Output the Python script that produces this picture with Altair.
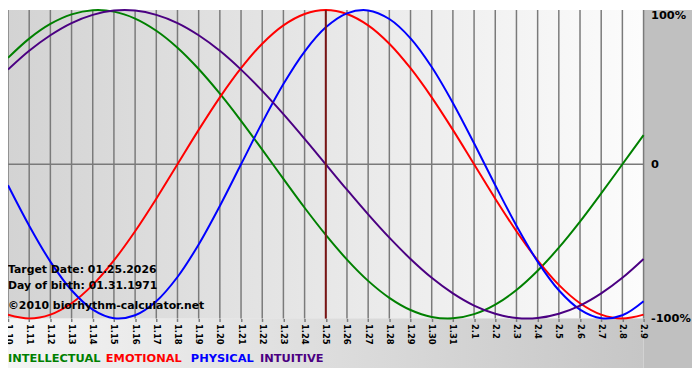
import altair as alt
import pandas as pd

days = ["1.10", "1.11", "1.12", "1.13", "1.14", "1.15", "1.16", "1.17", "1.18", "1.19",
        "1.20", "1.21", "1.22", "1.23", "1.24", "1.25", "1.26", "1.27", "1.28", "1.29",
        "1.30", "1.31", "2.1", "2.2", "2.3", "2.4", "2.5", "2.6", "2.7", "2.8", "2.9"]

intellectual = [0.690, 0.815, 0.910, 0.972, 0.999, 0.990, 0.945, 0.866, 0.756, 0.618, 0.458,
                0.282, 0.095, -0.095, -0.282, -0.458, -0.618, -0.756, -0.866, -0.945, -0.990,
                -0.999, -0.972, -0.910, -0.815, -0.690, -0.541, -0.372, -0.189, 0.000, 0.189]
emotional = [-0.975, -1.000, -0.975, -0.901, -0.782, -0.623, -0.434, -0.223, 0.000, 0.223,
             0.434, 0.623, 0.782, 0.901, 0.975, 1.000, 0.975, 0.901, 0.782, 0.623, 0.434,
             0.223, 0.000, -0.223, -0.434, -0.623, -0.782, -0.901, -0.975, -1.000, -0.975]
physical = [-0.136, -0.398, -0.631, -0.817, -0.942, -0.998, -0.979, -0.888, -0.731, -0.520,
            -0.270, 0.000, 0.270, 0.520, 0.731, 0.888, 0.979, 0.998, 0.942, 0.817, 0.631,
            0.398, 0.136, -0.136, -0.398, -0.631, -0.817, -0.942, -0.998, -0.979, -0.888]
intuitive = [0.614, 0.736, 0.837, 0.916, 0.969, 0.997, 0.997, 0.969, 0.916, 0.837, 0.736,
             0.614, 0.476, 0.325, 0.165, 0.000, -0.165, -0.325, -0.476, -0.614, -0.736,
             -0.837, -0.916, -0.969, -0.997, -0.997, -0.969, -0.916, -0.837, -0.736, -0.614]

series_names = ["INTELLECTUAL", "EMOTIONAL", "PHYSICAL", "INTUITIVE"]
series_colors = ["#008000", "#ff0000", "#0000ff", "#4b0082"]
series_values = [intellectual, emotional, physical, intuitive]

y_ticks = [-1, 0, 1]
y_tick_labels = ["-100%", "0", "100%"]
target_day = "1.25"
notes = ["Target Date: 01.25.2026", "Day of birth: 01.31.1971", "©2010 biorhythm-calculator.net"]

# ---------------------------------------------------------------
rows = []
for name, vals in zip(series_names, series_values):
    for d, v in zip(days, vals):
        rows.append({"day": d, "series": name, "value": v})
df = pd.DataFrame(rows)

W, H = 643, 312
FONT = "DejaVu Sans"

label_expr = " : ".join(
    f"datum.value == {v} ? '{t}'" for v, t in zip(y_ticks, y_tick_labels)
) + " : ''"

x_enc = alt.X(
    "day:O", sort=days, title=None,
    scale=alt.Scale(type="point", padding=0),
    axis=alt.Axis(labelAngle=90, labelFont=FONT, labelFontSize=8.5, labelFontWeight="bold",
                  labelColor="black", grid=False, domain=False, ticks=True,
                  tickColor="#7a7a7a", tickSize=3, tickWidth=1.5, labelPadding=2,
                  zindex=2),
)
y_enc = alt.Y(
    "value:Q", title=None,
    scale=alt.Scale(domain=[-1, 1], nice=False, zero=False),
    axis=alt.Axis(orient="right", values=y_ticks, labelExpr=label_expr, grid=False,
                  domain=False, ticks=False, labelPadding=7, labelFont=FONT,
                  labelFontSize=11.5, labelFontWeight="bold", labelColor="black",
                  labelAlign="left", zindex=2,
                  labelBaseline={"condition": {"test": "datum.value == 1", "value": "top"},
                                 "value": "middle"}),
)

one = pd.DataFrame({"a": [0]})

plot_bg = alt.Chart(one).mark_rect(
    fill=alt.LinearGradient(gradient="linear", x1=0, x2=1, y1=0, y2=0,
                            stops=[alt.GradientStop(color="#d3d3d3", offset=0),
                                   alt.GradientStop(color="#fcfcfc", offset=1)])
).encode(x=alt.value(0), x2=alt.value(W), y=alt.value(0), y2=alt.value(H))

bottom_bg = alt.Chart(one).mark_rect(
    fill=alt.LinearGradient(gradient="linear", x1=0, x2=1, y1=0, y2=0,
                            stops=[alt.GradientStop(color="#f4f4f4", offset=0),
                                   alt.GradientStop(color="#c6c6c6", offset=1)])
).encode(x=alt.value(0), x2=alt.value(W), y=alt.value(H), y2=alt.value(H + 50))

right_bg = alt.Chart(one).mark_rect(fill="#c0c0c0").encode(
    x=alt.value(W), x2=alt.value(W + 49), y=alt.value(0), y2=alt.value(H + 50))

grid = alt.Chart(pd.DataFrame({"day": days})).mark_rule(
    color="#7a7a7a", strokeWidth=1.5).encode(x=x_enc)

zero = alt.Chart(pd.DataFrame({"value": [0]})).mark_rule(
    color="#7a7a7a", strokeWidth=1.5).encode(y=y_enc)

lines = alt.Chart(df).mark_line(strokeWidth=2, interpolate="catmull-rom").encode(
    x=x_enc, y=y_enc,
    color=alt.Color("series:N", scale=alt.Scale(domain=series_names, range=series_colors),
                    legend=None),
)

target = alt.Chart(pd.DataFrame({"day": [target_day]})).mark_rule(
    color="#7a1414", strokeWidth=2).encode(x=x_enc)

layers = [plot_bg, bottom_bg, right_bg, grid, zero, lines, target]

note_y = [263, 279, 299]
for txt, yy in zip(notes, note_y):
    layers.append(
        alt.Chart(one).mark_text(text=txt, align="left", baseline="middle", font=FONT,
                                 fontSize=11, fontWeight="bold", color="black")
        .encode(x=alt.value(0), y=alt.value(yy))
    )

legend_x = [0, 99, 185, 255]
for name, col, xx in zip(series_names, series_colors, legend_x):
    layers.append(
        alt.Chart(one).mark_text(text=name, align="left", baseline="middle", font=FONT,
                                 fontSize=11.5, fontWeight="bold", color=col)
        .encode(x=alt.value(xx), y=alt.value(H + 41))
    )

chart = alt.layer(*layers).properties(
    width=W, height=H,
    autosize=alt.AutoSizeParams(type="none"),
    padding={"left": 0, "top": 0, "right": 49, "bottom": 50},
).configure_view(stroke=None).configure(background="white")

chart.save("out.html", embed_options={"renderer": "svg", "actions": False})
